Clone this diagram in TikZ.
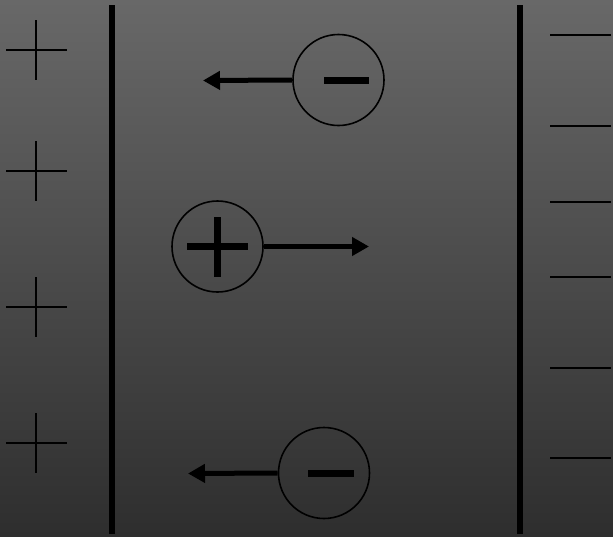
\documentclass[tikz,border=0pt]{standalone}
\usetikzlibrary{arrows.meta}
\definecolor{bgtop}{RGB}{104,104,104}
\definecolor{bgbot}{RGB}{46,46,46}
\begin{document}
\begin{tikzpicture}[x=1pt,y=-1pt,
  plate/.style={line width=5.5pt,black},
  thin mark/.style={line width=2pt,black},
  charge/.style={circle,draw=black,line width=1.6pt,minimum size=91pt,inner sep=0pt},
  bar/.style={line width=7pt,black},
  force/.style={line width=5pt,black,-{Triangle[length=17pt,width=18pt]}}]
  \shade[top color=bgtop,bottom color=bgbot] (0,0) rectangle (613,536);
  \useasboundingbox (0,0) rectangle (613,536);
  % plates
  \draw[plate] (112,5) -- (112,534);
  \draw[plate] (520,5) -- (520,534);
  % plus marks on left
  \foreach \yy in {50,171,307,443}{
    \draw[thin mark] (6,\yy) -- (67,\yy);
    \draw[thin mark] (36,\yy-30) -- (36,\yy+30);
  }
  % minus marks on right
  \foreach \yy in {35,126,202,277,368,458}{
    \draw[thin mark] (550,\yy) -- (611,\yy);
  }
  % charges
  \node[charge] (n1) at (338.5,80) {};
  \node[charge] (p1) at (217.5,246.5) {};
  \node[charge] (n2) at (324,473) {};
  \draw[bar] (324,80.5) -- (369,80.5);
  \draw[bar] (187,246.5) -- (248,246.5);
  \draw[bar] (217.5,217) -- (217.5,277);
  \draw[bar] (308,473.5) -- (354,473.5);
  % forces
  \coordinate (t1) at (203,80.5);
  \coordinate (t2) at (369,246.5);
  \coordinate (t3) at (188,473.5);
  \draw[force] (n1.west) -- (t1);
  \draw[force] (p1.east) -- (t2);
  \draw[force] (n2.west) -- (t3);
\end{tikzpicture}
\end{document}
